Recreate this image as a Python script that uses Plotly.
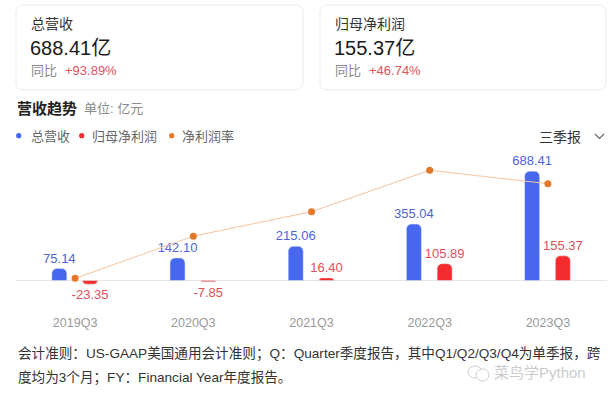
import plotly.graph_objects as go

# ---- data ----
categories = ["2019Q3", "2020Q3", "2021Q3", "2022Q3", "2023Q3"]
revenue = [75.14, 142.10, 215.06, 355.04, 688.41]
net_profit = [-23.35, -7.85, 16.40, 105.89, 155.37]
net_margin = [-28.1, -5.5, 7.6, 29.8, 22.6]

card_titles = ["总营收", "归母净利润"]
card_values = ["688.41亿", "155.37亿"]
card_yoy = ["+93.89%", "+46.74%"]
legend_names = ["总营收", "归母净利润", "净利润率"]

# ---- layout geometry (pixels) ----
FW, FH = 608, 399
L, R, T, B = 16, 607, 150, 313
W, H = R - L, B - T

def px(x):
    return (x - L) / W

def py(y):
    return (B - y) / H

BLUE = "#4767ee"
RED = "#f42c2f"
ORANGE = "#e4772a"
FONT = "Liberation Sans, Noto Sans CJK SC, sans-serif"

fig = go.Figure()

fig.add_trace(go.Bar(
    x=categories, y=revenue, name=legend_names[0],
    marker_color=BLUE, width=0.127, offset=-0.197,
    texttemplate="%{y:.2f}", textposition="outside", constraintext="none",
    textfont=dict(size=13, color="#4d63d8", family=FONT),
    cliponaxis=False,
))
fig.add_trace(go.Bar(
    x=categories, y=net_profit, name=legend_names[1],
    marker_color=RED, width=0.127, offset=0.063,
    texttemplate="%{y:.2f}", textposition="outside", constraintext="none",
    textfont=dict(size=13, color="#e0505a", family=FONT),
    cliponaxis=False,
))
fig.add_trace(go.Scatter(
    x=categories, y=net_margin, name=legend_names[2], yaxis="y2",
    mode="lines+markers",
    line=dict(color="#f3c3a0", width=1),
    marker=dict(color=ORANGE, size=7),
    cliponaxis=False,
))

annotations = []
shapes = []

def text(x, y, s, size, color, xanchor="left", weight=None):
    t = s if weight is None else f"<b>{s}</b>"
    annotations.append(dict(
        x=px(x), y=py(y), xref="paper", yref="paper", text=t,
        showarrow=False, xanchor=xanchor, yanchor="middle",
        font=dict(size=size, color=color, family=FONT),
    ))

def rounded_rect(x0, y0, x1, y1, r, line, fill):
    rx, ry = r / W, r / H
    X0, X1 = px(x0), px(x1)
    Y0, Y1 = py(y0), py(y1)  # Y0 top, Y1 bottom
    path = (f"M {X0+rx},{Y0} L {X1-rx},{Y0} Q {X1},{Y0} {X1},{Y0-ry} "
            f"L {X1},{Y1+ry} Q {X1},{Y1} {X1-rx},{Y1} "
            f"L {X0+rx},{Y1} Q {X0},{Y1} {X0},{Y1+ry} "
            f"L {X0},{Y0-ry} Q {X0},{Y0} {X0+rx},{Y0} Z")
    shapes.append(dict(type="path", path=path, xref="paper", yref="paper",
                       line=dict(color=line, width=1), fillcolor=fill, layer="below"))

# cards
card_x = [(16, 303), (320, 606)]
for i, (x0, x1) in enumerate(card_x):
    rounded_rect(x0, 5, x1, 90, 8, "#ebebeb", "white")
    tx = x0 + 13
    text(tx, 24, card_titles[i], 14, "#333333")
    text(tx - 1, 48, card_values[i], 20, "#1a1a1a")
    text(tx, 71, "同比", 13, "#8a8a8a")
    text(tx + 33.5, 71, card_yoy[i], 13, "#e2525c")

# section title
text(15, 109, "营收趋势", 15, "#222222", weight=True)
text(82, 109, "单位: 亿元", 13, "#8a8a8a")

# custom legend
leg = [(18.7, BLUE, 29), (81.7, RED, 90), (171.7, ORANGE, 180)]
for (dx, col, tx), name in zip(leg, legend_names):
    r = 2.6
    shapes.append(dict(type="circle", xref="paper", yref="paper",
                       x0=px(dx - r), x1=px(dx + r), y0=py(135.7 + r), y1=py(135.7 - r),
                       fillcolor=col, line=dict(width=0)))
    text(tx, 136, name, 13, "#666666")

text(583, 136.5, "三季报", 14, "#333333", xanchor="right")
# chevron
shapes.append(dict(type="path", xref="paper", yref="paper",
                   path=f"M {px(595)},{py(134)} L {px(599.5)},{py(138.5)} L {px(604)},{py(134)}",
                   line=dict(color="#666666", width=1.2)))

# footnote
text(16, 354, "会计准则：US-GAAP美国通用会计准则；Q：Quarter季度报告，其中Q1/Q2/Q3/Q4为单季报，跨", 13.6, "#333333")
text(16, 378, "度均为3个月；FY：Financial Year年度报告。", 13.6, "#333333")

# watermark
shapes.append(dict(type="circle", xref="paper", yref="paper",
                   x0=px(468), x1=px(482), y0=py(378), y1=py(366),
                   line=dict(color="#cfcfcf", width=1)))
shapes.append(dict(type="circle", xref="paper", yref="paper",
                   x0=px(476), x1=px(489), y0=py(381), y1=py(369),
                   line=dict(color="#cfcfcf", width=1), fillcolor="white"))
text(492, 372, "菜鸟学Python", 15, "#cccccc")

fig.update_layout(
    width=FW, height=FH,
    margin=dict(l=L, r=FW - R, t=T, b=FH - B, pad=0),
    paper_bgcolor="white", plot_bgcolor="white",
    barmode="overlay", barcornerradius=5,
    showlegend=False,
    font=dict(family=FONT),
    xaxis=dict(type="category", showgrid=False, showline=False, zeroline=False,
               ticks="", tickfont=dict(size=12.5, color="#999999", family=FONT),
               range=[-0.5, 4.5]),
    yaxis=dict(range=[-204.7, 821.8], showgrid=False, showticklabels=False,
               zeroline=True, zerolinecolor="#e6e6e6", zerolinewidth=1, showline=False),
    yaxis2=dict(range=[-46.68, 40.67], overlaying="y", side="right",
                showgrid=False, showticklabels=False, zeroline=False, showline=False),
    annotations=annotations, shapes=shapes,
)

fig.write_html("out.html", config={"displayModeBar": False},
               post_script="document.body.style.margin='0';document.body.style.overflow='hidden';")
